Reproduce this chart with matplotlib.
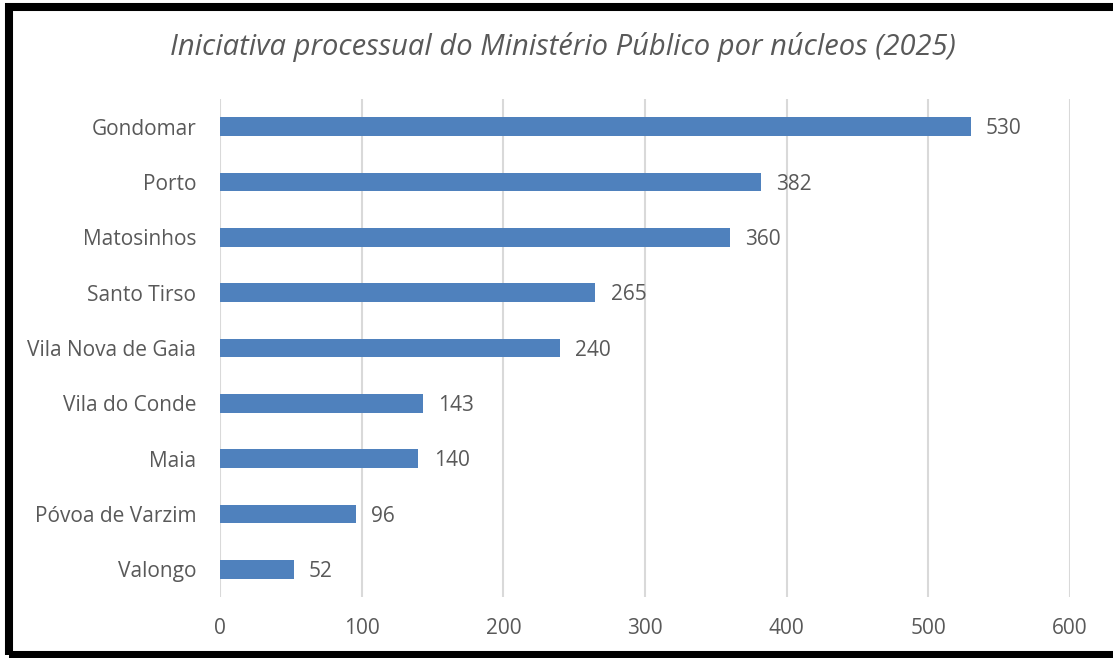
import matplotlib.pyplot as plt
from matplotlib.patches import Rectangle

# data
nucleos = ['Gondomar', 'Porto', 'Matosinhos', 'Santo Tirso', 'Vila Nova de Gaia',
           'Vila do Conde', 'Maia', 'Póvoa de Varzim', 'Valongo']
processos = [530, 382, 360, 265, 240, 143, 140, 96, 52]
x_ticks = [0, 100, 200, 300, 400, 500, 600]

bar_color = '#4F81BD'
text_color = '#595959'
grid_color = '#D9D9D9'

plt.rcParams['font.family'] = ['Open Sans', 'DejaVu Sans']

fig = plt.figure(figsize=(11.13, 6.58), dpi=100)
ax = fig.add_axes([220 / 1113, 1 - 597 / 658, 850 / 1113, 498 / 658])

ypos = list(range(len(nucleos)))
ax.barh(ypos, processos, height=0.34, color=bar_color, zorder=3)
ax.set_ylim(len(nucleos) - 0.5, -0.5)
ax.set_xlim(0, 600)
ax.set_yticks(ypos)
ax.set_yticklabels(nucleos)
ax.set_xticks(x_ticks)

# value labels next to bars
for y, v in zip(ypos, processos):
    ax.annotate(str(v), (v, y), xytext=(11, -1.5), textcoords='offset points',
                va='center', ha='left', fontsize=15, color=text_color)

ax.grid(axis='x', color=grid_color, linewidth=1.5, zorder=0)
ax.set_axisbelow(True)
for s in ax.spines.values():
    s.set_visible(False)
ax.tick_params(axis='both', length=0, labelsize=15, labelcolor=text_color)
ax.tick_params(axis='x', pad=15)
ax.tick_params(axis='y', pad=17)

fig.text(563 / 1113, 1 - 47 / 658,
         'Iniciativa processual do Ministério Público por núcleos (2025)',
         ha='center', va='center', fontsize=21, style='italic', color=text_color)

# black frame round the chart
fig.patches.append(Rectangle((9 / 1113, 1 - 655 / 658), 1.2, 648.5 / 658,
                             transform=fig.transFigure, fill=False,
                             edgecolor='black', linewidth=5.8))

fig.savefig('out.png', dpi=100)
